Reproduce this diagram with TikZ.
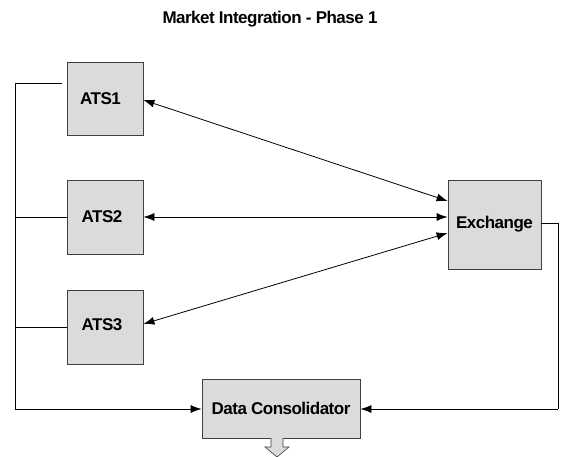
\documentclass[tikz,border=0pt]{standalone}
\usepackage{fontspec}
\setmainfont{Liberation Sans}[LetterSpace=-3]
\usetikzlibrary{arrows.meta}

\tikzset{
  unit/.style={draw=black!75, fill=black!14, line width=0.8pt,
    font=\fontsize{17}{19}\selectfont\bfseries, inner sep=0pt},
  link/.style={line width=0.8pt},
  tip/.style={-{Latex[length=11pt,width=8pt]}},
  tips/.style={{Latex[length=11pt,width=8pt]}-{Latex[length=11pt,width=8pt]}}
}

\begin{document}
\begin{tikzpicture}[x=1pt,y=-1pt]
  \useasboundingbox (0,0) rectangle (564,457);
  \node (title) at (270,19) {\fontsize{17}{19}\selectfont\bfseries Market Integration - Phase 1};
  \node[unit, minimum width=76pt, minimum height=73pt] (ats1) at (105,98.5) {\hspace*{-9pt}ATS1};
  \node[unit, minimum width=76pt, minimum height=74pt] (ats2) at (105,217) {\hspace*{-6pt}ATS2};
  \node[unit, minimum width=76pt, minimum height=74pt] (ats3) at (105,327) {\hspace*{-6pt}\raisebox{5pt}{ATS3}};
  \node[unit, minimum width=93pt, minimum height=89pt] (exch) at (494.5,224.5) {\raisebox{4pt}{Exchange}};
  \node[unit, minimum width=158pt, minimum height=59pt] (cons) at (281,408.5) {\raisebox{-8pt}{Data Consolidator}};
  % side rails
  \coordinate (lt) at (15,83);
  \coordinate (lb) at (15,409);
  \coordinate (rt) at (558,223);
  \coordinate (rb) at (558,409);
  \draw[link] (62,83) -- (lt) -- (lb);
  \draw[link] (15,217) -- (ats2.west);
  \draw[link] (15,327) -- (ats3.west);
  \draw[link,tip] (lb) -- (cons.west |- lb);
  \draw[link] (exch.east |- rt) -- (rt) -- (rb);
  \draw[link,tip] (rb) -- (cons.east |- rb);
  % exchange links
  \draw[link,tips] (ats1.east |- 0,100) -- (exch.west |- 0,201);
  \draw[link,tips] (ats2.east) -- (exch.west |- ats2.east);
  \draw[link,tips] (ats3.east |- 0,324) -- (exch.west |- 0,233);
  % output arrow
  \draw[draw=black!75, fill=black!14, line width=0.6pt]
    (271,438) -- (271,447) -- (265,447) -- (277,457) -- (289,447) -- (283,447) -- (283,438);
\end{tikzpicture}
\end{document}
